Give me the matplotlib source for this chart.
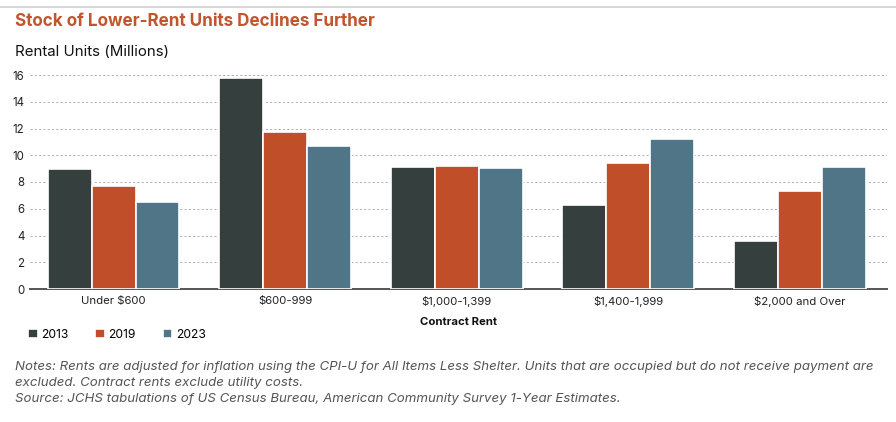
import numpy as np
import matplotlib.pyplot as plt
from matplotlib.lines import Line2D

plt.rcParams['font.family'] = ['Inter', 'DejaVu Sans']

categories = ['Under $600', '$600-999', '$1,000-1,399', '$1,400-1,999', '$2,000 and Over']
years = ['2013', '2019', '2023']
units_2013 = [9.0, 15.75, 9.15, 6.25, 3.6]
units_2019 = [7.7, 11.75, 9.18, 9.42, 7.3]
units_2023 = [6.5, 10.7, 9.08, 11.25, 9.12]
colors = ['#343f3e', '#c04f29', '#507586']

fig = plt.figure(figsize=(8.96, 4.22), dpi=100)
fig.patch.set_facecolor('white')
ax = fig.add_axes([30/896, 1 - 289/422, 857/896, 214/422])

x = np.arange(len(categories))
w = 0.256
handles = []
for i, (vals, c) in enumerate(zip([units_2013, units_2019, units_2023], colors)):
    b = ax.bar(x + (i - 1) * w, vals, w, color=c, edgecolor='white', linewidth=1.2,
               label=years[i], zorder=3)
    handles.append(b)

ax.set_xlim(-0.487, 4.507)
ax.set_ylim(0, 16)
ax.set_yticks(range(0, 17, 2))
ax.yaxis.grid(True, linestyle=(0, (2.2, 2.2)), color='#b0b0b0', linewidth=0.7, zorder=0)
ax.set_axisbelow(True)
for s in ['top', 'right', 'left']:
    ax.spines[s].set_visible(False)
ax.spines['bottom'].set_color('#555555')
ax.spines['bottom'].set_linewidth(1.4)
ax.tick_params(axis='y', length=0, pad=4, labelsize=8.3, labelcolor='#222222')
ax.tick_params(axis='x', length=0, pad=5, labelsize=8.2, labelcolor='#222222')
ax.set_xticks(x)
ax.set_xticklabels(categories)

# top separator line
fig.add_artist(Line2D([0, 1], [1 - 7/422, 1 - 7/422], color='#d0d0d0', linewidth=1.2))

fig.text(15/896, 1 - 22/422, 'Stock of Lower-Rent Units Declines Further', color='#c0552f',
         fontsize=12.3, fontweight='bold', va='center', ha='left')
fig.text(15/896, 1 - 52/422, 'Rental Units (Millions)', color='#111111',
         fontsize=10.8, va='center', ha='left')
fig.text(458/896, 1 - 322/422, 'Contract Rent', color='#111111',
         fontsize=8.2, fontweight='bold', va='center', ha='center')

leg = fig.legend(handles=handles, labels=years, loc='center left',
                 bbox_to_anchor=(28/896, 1 - 335/422), ncol=3, frameon=False,
                 fontsize=8.7, handlelength=0.8, handleheight=0.8,
                 handletextpad=0.3, columnspacing=2.2, borderaxespad=0, borderpad=0)

notes = ('Notes: Rents are adjusted for inflation using the CPI-U for All Items Less Shelter. '
         'Units that are occupied but do not receive payment are\n'
         'excluded. Contract rents exclude utility costs.\n'
         'Source: JCHS tabulations of US Census Bureau, American Community Survey 1-Year Estimates.')
fig.text(15/896, 1 - 361/422, notes, color='#555555', fontsize=9.55, style='italic',
         va='top', ha='left', linespacing=1.42)

fig.savefig('out.png', dpi=100)
